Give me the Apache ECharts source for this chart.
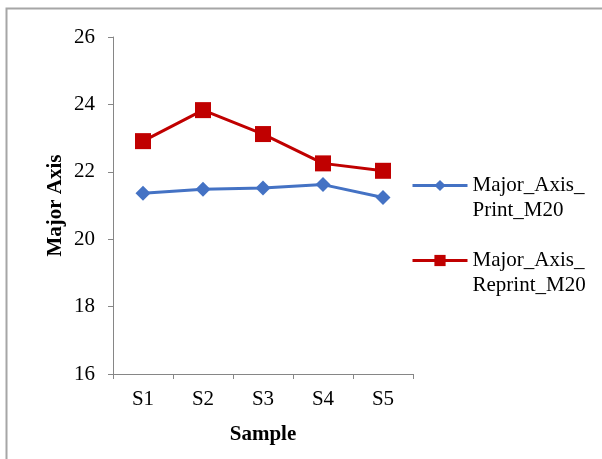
<!DOCTYPE html>
<html>
<head>
<meta charset="utf-8">
<script src="https://cdn.jsdelivr.net/npm/echarts@6/dist/echarts.min.js"></script>
<style>
  html, body { margin: 0; padding: 0; background: #ffffff; }
  #chart { width: 602px; height: 459px; }
</style>
</head>
<body>
<div id="chart"></div>
<script>
// Sample categories and measured major-axis values
const categories = ['S1', 'S2', 'S3', 'S4', 'S5'];
const printM20 = [21.36, 21.48, 21.52, 21.62, 21.24];
const reprintM20 = [22.91, 23.83, 23.12, 22.25, 22.03];
const seriesNames = ['Major_Axis_Print_M20', 'Major_Axis_Reprint_M20'];
// A leading blank line keeps the first text line level with the legend icon
const legendLabels = {
  'Major_Axis_Print_M20': '\u00a0\nMajor_Axis_\nPrint_M20',
  'Major_Axis_Reprint_M20': '\u00a0\nMajor_Axis_\nReprint_M20'
};
const yMin = 16, yMax = 26, yStep = 2;

const font = 'Liberation Serif, Times New Roman, serif';
const axisGray = '#868686';
const fs = 21;

const legendText = {
  fontFamily: font,
  fontSize: fs,
  color: '#000',
  lineHeight: 25
};

function legendFor(name, top) {
  return {
    data: [name],
    left: 411, top: top,
    padding: 0,
    itemWidth: 55, itemHeight: 14, itemGap: 4,
    lineStyle: { width: 3 },
    formatter: n => legendLabels[n],
    textStyle: legendText
  };
}

const chart = echarts.init(document.getElementById('chart'), null, { renderer: 'canvas' });
chart.setOption({
  animation: false,
  backgroundColor: '#ffffff',
  grid: { left: 113, right: 189, top: 37, bottom: 85, containLabel: false },
  legend: [
    legendFor(seriesNames[0], 148),
    legendFor(seriesNames[1], 223)
  ],
  xAxis: {
    type: 'category',
    data: categories,
    boundaryGap: true,
    name: 'Sample',
    nameLocation: 'middle',
    nameGap: 50,
    nameTextStyle: { fontFamily: font, fontSize: fs, fontWeight: 'bold', color: '#000' },
    axisLine: { lineStyle: { color: axisGray, width: 1 } },
    axisTick: { show: true, inside: false, length: 5, lineStyle: { color: axisGray } },
    axisLabel: { fontFamily: font, fontSize: fs, color: '#000', margin: 15 },
    splitLine: { show: false }
  },
  yAxis: {
    type: 'value',
    min: yMin, max: yMax, interval: yStep,
    name: 'Major Axis',
    nameLocation: 'middle',
    nameGap: 47,
    nameRotate: 90,
    nameTextStyle: { fontFamily: font, fontSize: fs, fontWeight: 'bold', color: '#000' },
    axisLine: { show: true, lineStyle: { color: axisGray, width: 1 } },
    axisTick: { show: true, inside: false, length: 5, lineStyle: { color: axisGray } },
    axisLabel: { fontFamily: font, fontSize: fs, color: '#000', margin: 18 },
    splitLine: { show: false }
  },
  series: [
    {
      name: seriesNames[0],
      type: 'line',
      data: printM20,
      color: '#4472C4',
      symbol: 'diamond',
      symbolSize: 15,
      lineStyle: { width: 3, color: '#4472C4' },
      itemStyle: { color: '#4472C4' }
    },
    {
      name: seriesNames[1],
      type: 'line',
      data: reprintM20,
      color: '#C00000',
      symbol: 'rect',
      symbolSize: 16,
      lineStyle: { width: 3, color: '#C00000' },
      itemStyle: { color: '#C00000' }
    }
  ],
  graphic: [
    {
      type: 'polyline',
      silent: true,
      shape: { points: [[6.5, 459], [6.5, 8.5], [602, 8.5]] },
      style: { stroke: '#a6a6a6', lineWidth: 2, fill: null }
    }
  ]
});
</script>
</body>
</html>
